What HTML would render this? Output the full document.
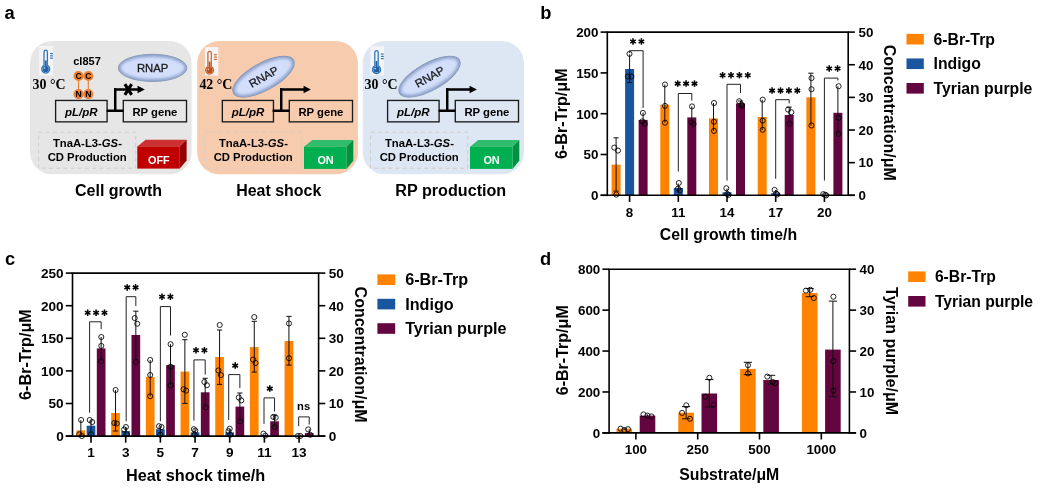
<!DOCTYPE html>
<html><head><meta charset="utf-8"><title>figure</title>
<style>
html,body{margin:0;padding:0;background:#fff;}
body{width:1041px;height:488px;overflow:hidden;}
svg{display:block;font-family:"Liberation Sans",sans-serif;will-change:transform;}
</style></head><body>
<svg width="1041" height="488" viewBox="0 0 1041 488">
<rect width="1041" height="488" fill="#fff"/>
<text x="4.5" y="19.2" font-size="18.3" font-weight="bold" text-anchor="start" fill="#000" >a</text>
<text x="540.3" y="19.2" font-size="18.3" font-weight="bold" text-anchor="start" fill="#000" >b</text>
<text x="5.1" y="264.65" font-size="18.3" font-weight="bold" text-anchor="start" fill="#000" >c</text>
<text x="540" y="265.2" font-size="18.3" font-weight="bold" text-anchor="start" fill="#000" >d</text>
<defs><clipPath id="rnapclip"><ellipse cx="0" cy="0" rx="34.3" ry="13.6"/></clipPath><filter id="rnapblur" x="-20%" y="-40%" width="140%" height="180%"><feGaussianBlur stdDeviation="1.5"/></filter></defs>
<rect x="30" y="41.1" width="161.6" height="133.2" rx="22" ry="22" fill="#e6e6e6"/>
<rect x="39.15" y="46" width="14" height="29.5" fill="#f4f4f6"/>
<path d="M44 65.4 V51.9 a1.7 1.7 0 0 1 3.4 0 V65.4 a4.0 4.0 0 1 1 -3.4 0 z" fill="#f2f5fa" stroke="#2e75b6" stroke-width="1.25"/>
<circle cx="45.7" cy="69" r="3.1" fill="#1f5fa8"/>
<rect x="44.8" y="60.5" width="1.8" height="7.8" fill="#1f5fa8"/>
<circle cx="44.5" cy="68.1" r="0.9" fill="#dfe8f4" opacity="0.8"/>
<rect x="50.05" y="53" width="2.9" height="1.15" fill="#2e75b6"/>
<rect x="50.05" y="55.3" width="2.9" height="1.15" fill="#2e75b6"/>
<rect x="50.05" y="57.6" width="2.9" height="1.15" fill="#2e75b6"/>
<text x="32.6" y="88.8" font-size="13.9" font-weight="bold" text-anchor="start" fill="#000" font-family='"Liberation Serif", serif' >30 °C</text>
<g transform="translate(152.6 67.9) rotate(0)">
<ellipse cx="0" cy="0" rx="34.3" ry="13.6" fill="#8b9fc9" stroke="#8696b8" stroke-width="0.9"/>
<g clip-path="url(#rnapclip)"><ellipse cx="0" cy="0" rx="31.9" ry="11.2" fill="#d2defa" filter="url(#rnapblur)"/></g>
<text x="0" y="4.1" font-size="11.3" font-weight="normal" text-anchor="middle" fill="#1a1a1a" stroke="#1a1a1a" stroke-width="0.3">RNAP</text>
</g>
<rect x="55.6" y="100.45" width="51.5" height="21.4" fill="none" stroke="#1c1c1c" stroke-width="1.35"/>
<rect x="123.3" y="100.45" width="63.2" height="21.4" fill="none" stroke="#1c1c1c" stroke-width="1.35"/>
<text x="81.3" y="115.6" font-size="11.5" font-weight="bold" text-anchor="middle" fill="#000" font-style="italic" >pL/pR</text>
<text x="154.9" y="115.6" font-size="11.3" font-weight="bold" text-anchor="middle" fill="#000" >RP gene</text>
<path d="M106.65 110.8 H123.25 M114.13 89.45 H138.75" fill="none" stroke="#000" stroke-width="2.6"/>
<path d="M115.25 110.8 V88.15" fill="none" stroke="#000" stroke-width="2.45"/>
<polygon points="137.55,85.65 144.85,89.45 137.55,93.25" fill="#000"/>
<rect x="38.6" y="132.2" width="97.2" height="36" fill="none" stroke="#cbcbcb" stroke-width="0.9" stroke-dasharray="4 3.2"/>
<text x="87.4" y="147.1" font-size="11.3" font-weight="bold" text-anchor="middle">TnaA-L3-<tspan font-style="italic">GS</tspan>-</text>
<text x="87.2" y="160.6" font-size="11.3" font-weight="bold" text-anchor="middle" fill="#000" >CD Production</text>
<polygon points="137.3,146.4 145.6,139.8 186.6,139.8 179.8,146.4" fill="#cc3030"/>
<polygon points="179.8,146.4 186.6,139.8 186.6,160.5 179.8,168.6" fill="#960000"/>
<rect x="137.3" y="146.4" width="42.5" height="22.2" fill="#c00000" />
<text x="158.85" y="164" font-size="10.9" font-weight="bold" text-anchor="middle" fill="#fff" >OFF</text>
<rect x="197.2" y="41.1" width="160.7" height="133.2" rx="22" ry="22" fill="#f7cbae"/>
<rect x="204.9" y="47.1" width="13.4" height="28.4" fill="#f4f4f6"/>
<path d="M207.9 66.6 V53.1 a1.7 1.7 0 0 1 3.4 0 V66.6 a4.0 4.0 0 1 1 -3.4 0 z" fill="#f2f5fa" stroke="#c8662b" stroke-width="1.25"/>
<circle cx="209.6" cy="70.2" r="3.1" fill="#bf4d17"/>
<rect x="208.7" y="61.7" width="1.8" height="7.8" fill="#bf4d17"/>
<circle cx="208.4" cy="69.3" r="0.9" fill="#dfe8f4" opacity="0.8"/>
<rect x="213.95" y="54.2" width="2.9" height="1.15" fill="#c8662b"/>
<rect x="213.95" y="56.5" width="2.9" height="1.15" fill="#c8662b"/>
<rect x="213.95" y="58.8" width="2.9" height="1.15" fill="#c8662b"/>
<text x="199.4" y="88.8" font-size="13.9" font-weight="bold" text-anchor="start" fill="#000" font-family='"Liberation Serif", serif' >42 °C</text>
<g transform="translate(263.5 76.7) rotate(-29)">
<ellipse cx="0" cy="0" rx="34.3" ry="13.6" fill="#8b9fc9" stroke="#8696b8" stroke-width="0.9"/>
<g clip-path="url(#rnapclip)"><ellipse cx="0" cy="0" rx="31.9" ry="11.2" fill="#d2defa" filter="url(#rnapblur)"/></g>
<text x="0" y="4.1" font-size="11.3" font-weight="normal" text-anchor="middle" fill="#1a1a1a" stroke="#1a1a1a" stroke-width="0.3">RNAP</text>
</g>
<rect x="222.35" y="100.45" width="51.1" height="21.4" fill="none" stroke="#1c1c1c" stroke-width="1.35"/>
<rect x="289.3" y="100.45" width="63.2" height="21.4" fill="none" stroke="#1c1c1c" stroke-width="1.35"/>
<text x="248.05" y="115.6" font-size="11.5" font-weight="bold" text-anchor="middle" fill="#000" font-style="italic" >pL/pR</text>
<text x="320.9" y="115.6" font-size="11.3" font-weight="bold" text-anchor="middle" fill="#000" >RP gene</text>
<path d="M272.65 110.8 H289.25 M280.13 89.45 H304.75" fill="none" stroke="#000" stroke-width="2.6"/>
<path d="M281.25 110.8 V88.15" fill="none" stroke="#000" stroke-width="2.45"/>
<polygon points="303.55,85.65 310.85,89.45 303.55,93.25" fill="#000"/>
<rect x="204.6" y="132.2" width="97.2" height="36" fill="none" stroke="#d9cdc6" stroke-width="0.9" stroke-dasharray="4 3.2"/>
<text x="253.4" y="147.1" font-size="11.3" font-weight="bold" text-anchor="middle">TnaA-L3-<tspan font-style="italic">GS</tspan>-</text>
<text x="253.2" y="160.6" font-size="11.3" font-weight="bold" text-anchor="middle" fill="#000" >CD Production</text>
<polygon points="304,146.7 312.3,140.1 353.3,140.1 346.5,146.7" fill="#2fbd6b"/>
<polygon points="346.5,146.7 353.3,140.1 353.3,160.8 346.5,168.9" fill="#00923f"/>
<rect x="304" y="146.7" width="42.5" height="22.2" fill="#00b050" />
<text x="325.55" y="164.3" font-size="10.9" font-weight="bold" text-anchor="middle" fill="#fff" >ON</text>
<rect x="362.7" y="41.1" width="161.3" height="133.2" rx="22" ry="22" fill="#dde7f4"/>
<rect x="370.4" y="46.3" width="13.4" height="29.2" fill="#f4f4f6"/>
<path d="M374.8 65.9 V52.4 a1.7 1.7 0 0 1 3.4 0 V65.9 a4.0 4.0 0 1 1 -3.4 0 z" fill="#f2f5fa" stroke="#2e75b6" stroke-width="1.25"/>
<circle cx="376.5" cy="69.5" r="3.1" fill="#1f5fa8"/>
<rect x="375.6" y="61" width="1.8" height="7.8" fill="#1f5fa8"/>
<circle cx="375.3" cy="68.6" r="0.9" fill="#dfe8f4" opacity="0.8"/>
<rect x="380.85" y="53.5" width="2.9" height="1.15" fill="#2e75b6"/>
<rect x="380.85" y="55.8" width="2.9" height="1.15" fill="#2e75b6"/>
<rect x="380.85" y="58.1" width="2.9" height="1.15" fill="#2e75b6"/>
<text x="364.6" y="88.8" font-size="13.9" font-weight="bold" text-anchor="start" fill="#000" font-family='"Liberation Serif", serif' >30 °C</text>
<g transform="translate(429.5 76.7) rotate(-29)">
<ellipse cx="0" cy="0" rx="34.3" ry="13.6" fill="#8b9fc9" stroke="#8696b8" stroke-width="0.9"/>
<g clip-path="url(#rnapclip)"><ellipse cx="0" cy="0" rx="31.9" ry="11.2" fill="#d2defa" filter="url(#rnapblur)"/></g>
<text x="0" y="4.1" font-size="11.3" font-weight="normal" text-anchor="middle" fill="#1a1a1a" stroke="#1a1a1a" stroke-width="0.3">RNAP</text>
</g>
<rect x="387.6" y="100.45" width="51.5" height="21.4" fill="none" stroke="#1c1c1c" stroke-width="1.35"/>
<rect x="455.3" y="100.45" width="63.2" height="21.4" fill="none" stroke="#1c1c1c" stroke-width="1.35"/>
<text x="413.3" y="115.6" font-size="11.5" font-weight="bold" text-anchor="middle" fill="#000" font-style="italic" >pL/pR</text>
<text x="486.9" y="115.6" font-size="11.3" font-weight="bold" text-anchor="middle" fill="#000" >RP gene</text>
<path d="M438.65 110.8 H455.25 M446.13 89.45 H470.75" fill="none" stroke="#000" stroke-width="2.6"/>
<path d="M447.25 110.8 V88.15" fill="none" stroke="#000" stroke-width="2.45"/>
<polygon points="469.55,85.65 476.85,89.45 469.55,93.25" fill="#000"/>
<rect x="370.6" y="132.2" width="97.2" height="36" fill="none" stroke="#cfc8c2" stroke-width="0.9" stroke-dasharray="4 3.2"/>
<text x="419.4" y="147.1" font-size="11.3" font-weight="bold" text-anchor="middle">TnaA-L3-<tspan font-style="italic">GS</tspan>-</text>
<text x="419.2" y="160.6" font-size="11.3" font-weight="bold" text-anchor="middle" fill="#000" >CD Production</text>
<polygon points="470,146.7 478.3,140.1 519.3,140.1 512.5,146.7" fill="#2fbd6b"/>
<polygon points="512.5,146.7 519.3,140.1 519.3,160.8 512.5,168.9" fill="#00923f"/>
<rect x="470" y="146.7" width="42.5" height="22.2" fill="#00b050" />
<text x="491.55" y="164.3" font-size="10.9" font-weight="bold" text-anchor="middle" fill="#fff" >ON</text>
<text x="87" y="65.2" font-size="11" font-weight="bold" text-anchor="middle" fill="#000" >cI857</text>
<line x1="78.5" y1="76" x2="78.5" y2="94" stroke="#ed7d31" stroke-width="1.1" />
<line x1="88.3" y1="76" x2="88.3" y2="94" stroke="#ed7d31" stroke-width="1.1" />
<circle cx="78.5" cy="76" r="5.05" fill="#f08030"/>
<text x="78.5" y="79.1" font-size="8.6" font-weight="bold" text-anchor="middle" fill="#000" >C</text>
<circle cx="88.3" cy="76" r="5.05" fill="#f08030"/>
<text x="88.3" y="79.1" font-size="8.6" font-weight="bold" text-anchor="middle" fill="#000" >C</text>
<circle cx="78.5" cy="94.1" r="5.05" fill="#f08030"/>
<text x="78.5" y="97.2" font-size="8.6" font-weight="bold" text-anchor="middle" fill="#000" >N</text>
<circle cx="88.3" cy="94.1" r="5.05" fill="#f08030"/>
<text x="88.3" y="97.2" font-size="8.6" font-weight="bold" text-anchor="middle" fill="#000" >N</text>
<line x1="124.85" y1="84.15" x2="131.65" y2="94.95" stroke="#000" stroke-width="3.1" />
<line x1="131.65" y1="84.15" x2="124.85" y2="94.95" stroke="#000" stroke-width="3.1" />
<text x="118.55" y="196" font-size="16" font-weight="bold" text-anchor="middle" fill="#000" >Cell growth</text>
<text x="278.75" y="196" font-size="15.95" font-weight="bold" text-anchor="middle" fill="#000" >Heat shock</text>
<text x="450.8" y="196" font-size="16.15" font-weight="bold" text-anchor="middle" fill="#000" >RP production</text>
<rect x="611.6" y="164.6" width="9" height="30.7" fill="#ff8200" />
<rect x="625.1" y="69" width="9" height="126.3" fill="#1a55a0" />
<rect x="638.6" y="119.9" width="9" height="75.4" fill="#63063f" />
<rect x="660.3" y="104.7" width="9" height="90.6" fill="#ff8200" />
<rect x="673.8" y="188" width="9" height="7.3" fill="#1a55a0" />
<rect x="687.3" y="117.4" width="9" height="77.9" fill="#63063f" />
<rect x="709" y="118.4" width="9" height="76.9" fill="#ff8200" />
<rect x="722.5" y="192.3" width="9" height="3" fill="#1a55a0" />
<rect x="736" y="103.4" width="9" height="91.9" fill="#63063f" />
<rect x="757.7" y="117" width="9" height="78.3" fill="#ff8200" />
<rect x="771.2" y="193.2" width="9" height="2.1" fill="#1a55a0" />
<rect x="784.7" y="115" width="9" height="80.3" fill="#63063f" />
<rect x="806.4" y="97.3" width="9" height="98" fill="#ff8200" />
<rect x="833.4" y="112.8" width="9" height="82.5" fill="#63063f" />
<line x1="606.5" y1="32.1" x2="849" y2="32.1" stroke="#000" stroke-width="1.6" />
<line x1="607.3" y1="32.1" x2="607.3" y2="196.1" stroke="#000" stroke-width="1.6" />
<line x1="848.2" y1="32.1" x2="848.2" y2="196.1" stroke="#000" stroke-width="1.6" />
<line x1="600.6" y1="195.3" x2="854.9" y2="195.3" stroke="#000" stroke-width="1.6" />
<line x1="600.6" y1="195.3" x2="607.3" y2="195.3" stroke="#000" stroke-width="1.6" />
<text x="598.5" y="200.1" font-size="13.4" font-weight="bold" text-anchor="end" fill="#000" >0</text>
<line x1="600.6" y1="154.5" x2="607.3" y2="154.5" stroke="#000" stroke-width="1.6" />
<text x="598.5" y="159.3" font-size="13.4" font-weight="bold" text-anchor="end" fill="#000" >50</text>
<line x1="600.6" y1="113.7" x2="607.3" y2="113.7" stroke="#000" stroke-width="1.6" />
<text x="598.5" y="118.5" font-size="13.4" font-weight="bold" text-anchor="end" fill="#000" >100</text>
<line x1="600.6" y1="72.9" x2="607.3" y2="72.9" stroke="#000" stroke-width="1.6" />
<text x="598.5" y="77.7" font-size="13.4" font-weight="bold" text-anchor="end" fill="#000" >150</text>
<line x1="600.6" y1="32.1" x2="607.3" y2="32.1" stroke="#000" stroke-width="1.6" />
<text x="598.5" y="36.9" font-size="13.4" font-weight="bold" text-anchor="end" fill="#000" >200</text>
<line x1="848.2" y1="195.3" x2="854.9" y2="195.3" stroke="#000" stroke-width="1.6" />
<text x="858.6" y="200.1" font-size="13.4" font-weight="bold" text-anchor="start" fill="#000" >0</text>
<line x1="848.2" y1="162.66" x2="854.9" y2="162.66" stroke="#000" stroke-width="1.6" />
<text x="858.6" y="167.46" font-size="13.4" font-weight="bold" text-anchor="start" fill="#000" >10</text>
<line x1="848.2" y1="130.02" x2="854.9" y2="130.02" stroke="#000" stroke-width="1.6" />
<text x="858.6" y="134.82" font-size="13.4" font-weight="bold" text-anchor="start" fill="#000" >20</text>
<line x1="848.2" y1="97.38" x2="854.9" y2="97.38" stroke="#000" stroke-width="1.6" />
<text x="858.6" y="102.18" font-size="13.4" font-weight="bold" text-anchor="start" fill="#000" >30</text>
<line x1="848.2" y1="64.74" x2="854.9" y2="64.74" stroke="#000" stroke-width="1.6" />
<text x="858.6" y="69.54" font-size="13.4" font-weight="bold" text-anchor="start" fill="#000" >40</text>
<line x1="848.2" y1="32.1" x2="854.9" y2="32.1" stroke="#000" stroke-width="1.6" />
<text x="858.6" y="36.9" font-size="13.4" font-weight="bold" text-anchor="start" fill="#000" >50</text>
<line x1="629.6" y1="195.3" x2="629.6" y2="201.9" stroke="#000" stroke-width="1.6" />
<text x="629.6" y="216.9" font-size="13.4" font-weight="bold" text-anchor="middle" fill="#000" >8</text>
<line x1="678.3" y1="195.3" x2="678.3" y2="201.9" stroke="#000" stroke-width="1.6" />
<text x="678.3" y="216.9" font-size="13.4" font-weight="bold" text-anchor="middle" fill="#000" >11</text>
<line x1="727" y1="195.3" x2="727" y2="201.9" stroke="#000" stroke-width="1.6" />
<text x="727" y="216.9" font-size="13.4" font-weight="bold" text-anchor="middle" fill="#000" >14</text>
<line x1="775.7" y1="195.3" x2="775.7" y2="201.9" stroke="#000" stroke-width="1.6" />
<text x="775.7" y="216.9" font-size="13.4" font-weight="bold" text-anchor="middle" fill="#000" >17</text>
<line x1="824.4" y1="195.3" x2="824.4" y2="201.9" stroke="#000" stroke-width="1.6" />
<text x="824.4" y="216.9" font-size="13.4" font-weight="bold" text-anchor="middle" fill="#000" >20</text>
<text x="728.45" y="240.4" font-size="15.85" font-weight="bold" text-anchor="middle" fill="#000" >Cell growth time/h</text>
<text transform="translate(567.4 113.7) rotate(-90)" font-size="16.15" font-weight="bold" text-anchor="middle">6-Br-Trp/μM</text>
<text transform="translate(883.8 112.8) rotate(90)" font-size="16.05" font-weight="bold" text-anchor="middle">Concentration/μM</text>
<rect x="906.5" y="33.9" width="17.3" height="10.6" fill="#ff8200" />
<text x="933.5" y="44.8" font-size="15.8" font-weight="bold" text-anchor="start" fill="#000" >6-Br-Trp</text>
<rect x="906.5" y="58.45" width="17.3" height="10.6" fill="#1a55a0" />
<text x="933.5" y="69.35" font-size="15.8" font-weight="bold" text-anchor="start" fill="#000" >Indigo</text>
<rect x="906.5" y="83" width="17.3" height="10.6" fill="#63063f" />
<text x="933.5" y="93.9" font-size="15.8" font-weight="bold" text-anchor="start" fill="#000" >Tyrian purple</text>
<line x1="616.1" y1="137.8" x2="616.1" y2="191.1" stroke="#111" stroke-width="1" />
<line x1="613.5" y1="137.8" x2="618.7" y2="137.8" stroke="#111" stroke-width="1" />
<line x1="613.5" y1="191.1" x2="618.7" y2="191.1" stroke="#111" stroke-width="1" />
<line x1="629.6" y1="54.3" x2="629.6" y2="82.5" stroke="#111" stroke-width="1" />
<line x1="627" y1="82.5" x2="632.2" y2="82.5" stroke="#111" stroke-width="1" />
<line x1="643.1" y1="112.5" x2="643.1" y2="124.3" stroke="#111" stroke-width="1" />
<line x1="664.8" y1="84.5" x2="664.8" y2="122.6" stroke="#111" stroke-width="1" />
<line x1="678.3" y1="183.5" x2="678.3" y2="192.5" stroke="#111" stroke-width="1" />
<line x1="691.8" y1="106.4" x2="691.8" y2="124.2" stroke="#111" stroke-width="1" />
<line x1="713.5" y1="103" x2="713.5" y2="131" stroke="#111" stroke-width="1" />
<line x1="727" y1="188.5" x2="727" y2="195.3" stroke="#111" stroke-width="1" />
<line x1="740.5" y1="101" x2="740.5" y2="106" stroke="#111" stroke-width="1" />
<line x1="737.9" y1="101" x2="743.1" y2="101" stroke="#111" stroke-width="1" />
<line x1="737.9" y1="106" x2="743.1" y2="106" stroke="#111" stroke-width="1" />
<line x1="762.2" y1="99.7" x2="762.2" y2="130.2" stroke="#111" stroke-width="1" />
<line x1="775.7" y1="190" x2="775.7" y2="195.3" stroke="#111" stroke-width="1" />
<line x1="789.2" y1="107.1" x2="789.2" y2="124" stroke="#111" stroke-width="1" />
<line x1="786.6" y1="107.1" x2="791.8" y2="107.1" stroke="#111" stroke-width="1" />
<line x1="810.9" y1="73.2" x2="810.9" y2="125.5" stroke="#111" stroke-width="1" />
<line x1="808.3" y1="73.2" x2="813.5" y2="73.2" stroke="#111" stroke-width="1" />
<line x1="837.9" y1="86.2" x2="837.9" y2="134" stroke="#111" stroke-width="1" />
<circle cx="614.3" cy="147.6" r="2.55" fill="none" stroke="#000" stroke-width="0.85"/>
<circle cx="618" cy="150.6" r="2.55" fill="none" stroke="#000" stroke-width="0.85"/>
<circle cx="616.3" cy="194.6" r="2.55" fill="none" stroke="#000" stroke-width="0.85"/>
<circle cx="629.5" cy="53.9" r="2.55" fill="none" stroke="#000" stroke-width="0.85"/>
<circle cx="627.9" cy="76.5" r="2.55" fill="none" stroke="#000" stroke-width="0.85"/>
<circle cx="631.4" cy="76.5" r="2.55" fill="none" stroke="#000" stroke-width="0.85"/>
<circle cx="642.9" cy="112.9" r="2.55" fill="none" stroke="#000" stroke-width="0.85"/>
<circle cx="642.4" cy="121.4" r="2.55" fill="none" stroke="#000" stroke-width="0.85"/>
<circle cx="644.8" cy="123.9" r="2.55" fill="none" stroke="#000" stroke-width="0.85"/>
<circle cx="665" cy="84.5" r="2.55" fill="none" stroke="#000" stroke-width="0.85"/>
<circle cx="665" cy="105.9" r="2.55" fill="none" stroke="#000" stroke-width="0.85"/>
<circle cx="665" cy="122.7" r="2.55" fill="none" stroke="#000" stroke-width="0.85"/>
<circle cx="678.8" cy="183" r="2.55" fill="none" stroke="#000" stroke-width="0.85"/>
<circle cx="678" cy="188.7" r="2.55" fill="none" stroke="#000" stroke-width="0.85"/>
<circle cx="679.7" cy="190.4" r="2.55" fill="none" stroke="#000" stroke-width="0.85"/>
<circle cx="692" cy="106.4" r="2.55" fill="none" stroke="#000" stroke-width="0.85"/>
<circle cx="691.5" cy="122.3" r="2.55" fill="none" stroke="#000" stroke-width="0.85"/>
<circle cx="693.5" cy="124" r="2.55" fill="none" stroke="#000" stroke-width="0.85"/>
<circle cx="714" cy="103" r="2.55" fill="none" stroke="#000" stroke-width="0.85"/>
<circle cx="714" cy="121.8" r="2.55" fill="none" stroke="#000" stroke-width="0.85"/>
<circle cx="714" cy="130.9" r="2.55" fill="none" stroke="#000" stroke-width="0.85"/>
<circle cx="726.3" cy="188.2" r="2.55" fill="none" stroke="#000" stroke-width="0.85"/>
<circle cx="727.3" cy="194" r="2.55" fill="none" stroke="#000" stroke-width="0.85"/>
<circle cx="728.4" cy="195" r="2.55" fill="none" stroke="#000" stroke-width="0.85"/>
<circle cx="739.2" cy="101.2" r="2.55" fill="none" stroke="#000" stroke-width="0.85"/>
<circle cx="741.6" cy="104.7" r="2.55" fill="none" stroke="#000" stroke-width="0.85"/>
<circle cx="742.1" cy="105.9" r="2.55" fill="none" stroke="#000" stroke-width="0.85"/>
<circle cx="762.7" cy="99.7" r="2.55" fill="none" stroke="#000" stroke-width="0.85"/>
<circle cx="762.7" cy="120.6" r="2.55" fill="none" stroke="#000" stroke-width="0.85"/>
<circle cx="762.7" cy="129.8" r="2.55" fill="none" stroke="#000" stroke-width="0.85"/>
<circle cx="774.6" cy="189.9" r="2.55" fill="none" stroke="#000" stroke-width="0.85"/>
<circle cx="776.1" cy="193.6" r="2.55" fill="none" stroke="#000" stroke-width="0.85"/>
<circle cx="777.3" cy="194.5" r="2.55" fill="none" stroke="#000" stroke-width="0.85"/>
<circle cx="788.1" cy="109.6" r="2.55" fill="none" stroke="#000" stroke-width="0.85"/>
<circle cx="791.3" cy="112.2" r="2.55" fill="none" stroke="#000" stroke-width="0.85"/>
<circle cx="789.6" cy="123.6" r="2.55" fill="none" stroke="#000" stroke-width="0.85"/>
<circle cx="811.5" cy="78.1" r="2.55" fill="none" stroke="#000" stroke-width="0.85"/>
<circle cx="811.5" cy="89.2" r="2.55" fill="none" stroke="#000" stroke-width="0.85"/>
<circle cx="811.5" cy="125.5" r="2.55" fill="none" stroke="#000" stroke-width="0.85"/>
<circle cx="823.3" cy="194.1" r="2.55" fill="none" stroke="#000" stroke-width="0.85"/>
<circle cx="825.2" cy="194.8" r="2.55" fill="none" stroke="#000" stroke-width="0.85"/>
<circle cx="826.2" cy="195.4" r="2.55" fill="none" stroke="#000" stroke-width="0.85"/>
<circle cx="838.6" cy="86.2" r="2.55" fill="none" stroke="#000" stroke-width="0.85"/>
<circle cx="838.6" cy="117.9" r="2.55" fill="none" stroke="#000" stroke-width="0.85"/>
<circle cx="838.6" cy="133.9" r="2.55" fill="none" stroke="#000" stroke-width="0.85"/>
<path d="M629.6 53 V50.7 H643.1 V108" fill="none" stroke="#222" stroke-width="1"/>
<path d="M678.3 171.5 V93.5 H691.8 V100.5" fill="none" stroke="#222" stroke-width="1"/>
<path d="M727 180.6 V84.3 H740.5 V93" fill="none" stroke="#222" stroke-width="1"/>
<path d="M775.7 178.8 V99.7 H789.2 V103.4" fill="none" stroke="#222" stroke-width="1"/>
<path d="M824.4 180.6 V78.1 H837.9 V80.5" fill="none" stroke="#222" stroke-width="1"/>
<line x1="633" y1="38.25" x2="633" y2="44.75" stroke="#000" stroke-width="1.55" />
<line x1="630.19" y1="39.88" x2="635.81" y2="43.12" stroke="#000" stroke-width="1.55" />
<line x1="635.81" y1="39.88" x2="630.19" y2="43.12" stroke="#000" stroke-width="1.55" />
<line x1="641.4" y1="38.25" x2="641.4" y2="44.75" stroke="#000" stroke-width="1.55" />
<line x1="638.59" y1="39.88" x2="644.21" y2="43.12" stroke="#000" stroke-width="1.55" />
<line x1="644.21" y1="39.88" x2="638.59" y2="43.12" stroke="#000" stroke-width="1.55" />
<line x1="677.7" y1="80.35" x2="677.7" y2="86.85" stroke="#000" stroke-width="1.55" />
<line x1="674.89" y1="81.97" x2="680.51" y2="85.22" stroke="#000" stroke-width="1.55" />
<line x1="680.51" y1="81.97" x2="674.89" y2="85.22" stroke="#000" stroke-width="1.55" />
<line x1="686.1" y1="80.35" x2="686.1" y2="86.85" stroke="#000" stroke-width="1.55" />
<line x1="683.29" y1="81.97" x2="688.91" y2="85.22" stroke="#000" stroke-width="1.55" />
<line x1="688.91" y1="81.97" x2="683.29" y2="85.22" stroke="#000" stroke-width="1.55" />
<line x1="694.5" y1="80.35" x2="694.5" y2="86.85" stroke="#000" stroke-width="1.55" />
<line x1="691.69" y1="81.97" x2="697.31" y2="85.22" stroke="#000" stroke-width="1.55" />
<line x1="697.31" y1="81.97" x2="691.69" y2="85.22" stroke="#000" stroke-width="1.55" />
<line x1="722.6" y1="71.95" x2="722.6" y2="78.45" stroke="#000" stroke-width="1.55" />
<line x1="719.79" y1="73.58" x2="725.41" y2="76.83" stroke="#000" stroke-width="1.55" />
<line x1="725.41" y1="73.58" x2="719.79" y2="76.83" stroke="#000" stroke-width="1.55" />
<line x1="731" y1="71.95" x2="731" y2="78.45" stroke="#000" stroke-width="1.55" />
<line x1="728.19" y1="73.58" x2="733.81" y2="76.83" stroke="#000" stroke-width="1.55" />
<line x1="733.81" y1="73.58" x2="728.19" y2="76.83" stroke="#000" stroke-width="1.55" />
<line x1="739.4" y1="71.95" x2="739.4" y2="78.45" stroke="#000" stroke-width="1.55" />
<line x1="736.59" y1="73.58" x2="742.21" y2="76.83" stroke="#000" stroke-width="1.55" />
<line x1="742.21" y1="73.58" x2="736.59" y2="76.83" stroke="#000" stroke-width="1.55" />
<line x1="747.8" y1="71.95" x2="747.8" y2="78.45" stroke="#000" stroke-width="1.55" />
<line x1="744.99" y1="73.58" x2="750.61" y2="76.83" stroke="#000" stroke-width="1.55" />
<line x1="750.61" y1="73.58" x2="744.99" y2="76.83" stroke="#000" stroke-width="1.55" />
<line x1="772.1" y1="87.35" x2="772.1" y2="93.85" stroke="#000" stroke-width="1.55" />
<line x1="769.29" y1="88.97" x2="774.91" y2="92.22" stroke="#000" stroke-width="1.55" />
<line x1="774.91" y1="88.97" x2="769.29" y2="92.22" stroke="#000" stroke-width="1.55" />
<line x1="780.5" y1="87.35" x2="780.5" y2="93.85" stroke="#000" stroke-width="1.55" />
<line x1="777.69" y1="88.97" x2="783.31" y2="92.22" stroke="#000" stroke-width="1.55" />
<line x1="783.31" y1="88.97" x2="777.69" y2="92.22" stroke="#000" stroke-width="1.55" />
<line x1="788.9" y1="87.35" x2="788.9" y2="93.85" stroke="#000" stroke-width="1.55" />
<line x1="786.09" y1="88.97" x2="791.71" y2="92.22" stroke="#000" stroke-width="1.55" />
<line x1="791.71" y1="88.97" x2="786.09" y2="92.22" stroke="#000" stroke-width="1.55" />
<line x1="797.3" y1="87.35" x2="797.3" y2="93.85" stroke="#000" stroke-width="1.55" />
<line x1="794.49" y1="88.97" x2="800.11" y2="92.22" stroke="#000" stroke-width="1.55" />
<line x1="800.11" y1="88.97" x2="794.49" y2="92.22" stroke="#000" stroke-width="1.55" />
<line x1="829.2" y1="65.25" x2="829.2" y2="71.75" stroke="#000" stroke-width="1.55" />
<line x1="826.39" y1="66.88" x2="832.01" y2="70.12" stroke="#000" stroke-width="1.55" />
<line x1="832.01" y1="66.88" x2="826.39" y2="70.12" stroke="#000" stroke-width="1.55" />
<line x1="837.6" y1="65.25" x2="837.6" y2="71.75" stroke="#000" stroke-width="1.55" />
<line x1="834.79" y1="66.88" x2="840.41" y2="70.12" stroke="#000" stroke-width="1.55" />
<line x1="840.41" y1="66.88" x2="834.79" y2="70.12" stroke="#000" stroke-width="1.55" />
<rect x="76.5" y="430.4" width="8.7" height="5.7" fill="#ff8200" />
<rect x="86.65" y="425.7" width="8.7" height="10.4" fill="#1a55a0" />
<rect x="96.8" y="348.4" width="8.7" height="87.7" fill="#63063f" />
<rect x="111.18" y="413" width="8.7" height="23.1" fill="#ff8200" />
<rect x="121.33" y="431.1" width="8.7" height="5" fill="#1a55a0" />
<rect x="131.48" y="335" width="8.7" height="101.1" fill="#63063f" />
<rect x="145.86" y="377" width="8.7" height="59.1" fill="#ff8200" />
<rect x="156.01" y="429.2" width="8.7" height="6.9" fill="#1a55a0" />
<rect x="166.16" y="365.1" width="8.7" height="71" fill="#63063f" />
<rect x="180.54" y="371.6" width="8.7" height="64.5" fill="#ff8200" />
<rect x="190.69" y="432.4" width="8.7" height="3.7" fill="#1a55a0" />
<rect x="200.84" y="392.3" width="8.7" height="43.8" fill="#63063f" />
<rect x="215.22" y="357" width="8.7" height="79.1" fill="#ff8200" />
<rect x="225.37" y="432.4" width="8.7" height="3.7" fill="#1a55a0" />
<rect x="235.52" y="406.6" width="8.7" height="29.5" fill="#63063f" />
<rect x="249.9" y="347.1" width="8.7" height="89" fill="#ff8200" />
<rect x="260.05" y="434.8" width="8.7" height="1.3" fill="#1a55a0" />
<rect x="270.2" y="421.3" width="8.7" height="14.8" fill="#63063f" />
<rect x="284.58" y="341" width="8.7" height="95.1" fill="#ff8200" />
<rect x="304.88" y="433.1" width="8.7" height="3" fill="#63063f" />
<line x1="71.7" y1="273.1" x2="319.4" y2="273.1" stroke="#000" stroke-width="1.6" />
<line x1="72.5" y1="273.1" x2="72.5" y2="436.9" stroke="#000" stroke-width="1.6" />
<line x1="318.6" y1="273.1" x2="318.6" y2="436.9" stroke="#000" stroke-width="1.6" />
<line x1="65.8" y1="436.1" x2="325.3" y2="436.1" stroke="#000" stroke-width="1.6" />
<line x1="65.8" y1="436.1" x2="72.5" y2="436.1" stroke="#000" stroke-width="1.6" />
<text x="63.7" y="440.9" font-size="13.6" font-weight="bold" text-anchor="end" fill="#000" >0</text>
<line x1="65.8" y1="403.5" x2="72.5" y2="403.5" stroke="#000" stroke-width="1.6" />
<text x="63.7" y="408.3" font-size="13.6" font-weight="bold" text-anchor="end" fill="#000" >50</text>
<line x1="65.8" y1="370.9" x2="72.5" y2="370.9" stroke="#000" stroke-width="1.6" />
<text x="63.7" y="375.7" font-size="13.6" font-weight="bold" text-anchor="end" fill="#000" >100</text>
<line x1="65.8" y1="338.3" x2="72.5" y2="338.3" stroke="#000" stroke-width="1.6" />
<text x="63.7" y="343.1" font-size="13.6" font-weight="bold" text-anchor="end" fill="#000" >150</text>
<line x1="65.8" y1="305.7" x2="72.5" y2="305.7" stroke="#000" stroke-width="1.6" />
<text x="63.7" y="310.5" font-size="13.6" font-weight="bold" text-anchor="end" fill="#000" >200</text>
<line x1="65.8" y1="273.1" x2="72.5" y2="273.1" stroke="#000" stroke-width="1.6" />
<text x="63.7" y="277.9" font-size="13.6" font-weight="bold" text-anchor="end" fill="#000" >250</text>
<line x1="318.6" y1="436.1" x2="325.3" y2="436.1" stroke="#000" stroke-width="1.6" />
<text x="328.7" y="440.9" font-size="13.6" font-weight="bold" text-anchor="start" fill="#000" >0</text>
<line x1="318.6" y1="403.5" x2="325.3" y2="403.5" stroke="#000" stroke-width="1.6" />
<text x="328.7" y="408.3" font-size="13.6" font-weight="bold" text-anchor="start" fill="#000" >10</text>
<line x1="318.6" y1="370.9" x2="325.3" y2="370.9" stroke="#000" stroke-width="1.6" />
<text x="328.7" y="375.7" font-size="13.6" font-weight="bold" text-anchor="start" fill="#000" >20</text>
<line x1="318.6" y1="338.3" x2="325.3" y2="338.3" stroke="#000" stroke-width="1.6" />
<text x="328.7" y="343.1" font-size="13.6" font-weight="bold" text-anchor="start" fill="#000" >30</text>
<line x1="318.6" y1="305.7" x2="325.3" y2="305.7" stroke="#000" stroke-width="1.6" />
<text x="328.7" y="310.5" font-size="13.6" font-weight="bold" text-anchor="start" fill="#000" >40</text>
<line x1="318.6" y1="273.1" x2="325.3" y2="273.1" stroke="#000" stroke-width="1.6" />
<text x="328.7" y="277.9" font-size="13.6" font-weight="bold" text-anchor="start" fill="#000" >50</text>
<line x1="91" y1="436.1" x2="91" y2="442.7" stroke="#000" stroke-width="1.6" />
<text x="91" y="457" font-size="13.6" font-weight="bold" text-anchor="middle" fill="#000" >1</text>
<line x1="125.68" y1="436.1" x2="125.68" y2="442.7" stroke="#000" stroke-width="1.6" />
<text x="125.68" y="457" font-size="13.6" font-weight="bold" text-anchor="middle" fill="#000" >3</text>
<line x1="160.36" y1="436.1" x2="160.36" y2="442.7" stroke="#000" stroke-width="1.6" />
<text x="160.36" y="457" font-size="13.6" font-weight="bold" text-anchor="middle" fill="#000" >5</text>
<line x1="195.04" y1="436.1" x2="195.04" y2="442.7" stroke="#000" stroke-width="1.6" />
<text x="195.04" y="457" font-size="13.6" font-weight="bold" text-anchor="middle" fill="#000" >7</text>
<line x1="229.72" y1="436.1" x2="229.72" y2="442.7" stroke="#000" stroke-width="1.6" />
<text x="229.72" y="457" font-size="13.6" font-weight="bold" text-anchor="middle" fill="#000" >9</text>
<line x1="264.4" y1="436.1" x2="264.4" y2="442.7" stroke="#000" stroke-width="1.6" />
<text x="264.4" y="457" font-size="13.6" font-weight="bold" text-anchor="middle" fill="#000" >11</text>
<line x1="299.08" y1="436.1" x2="299.08" y2="442.7" stroke="#000" stroke-width="1.6" />
<text x="299.08" y="457" font-size="13.6" font-weight="bold" text-anchor="middle" fill="#000" >13</text>
<text x="195.55" y="481.4" font-size="16.3" font-weight="bold" text-anchor="middle" fill="#000" >Heat shock time/h</text>
<text transform="translate(30.7 354.6) rotate(-90)" font-size="16.15" font-weight="bold" text-anchor="middle">6-Br-Trp/μM</text>
<text transform="translate(354.6 354.6) rotate(90)" font-size="16" font-weight="bold" text-anchor="middle">Concentration/μM</text>
<rect x="377.4" y="274.4" width="17.8" height="10.6" fill="#ff8200" />
<text x="405.2" y="285.3" font-size="16.2" font-weight="bold" text-anchor="start" fill="#000" >6-Br-Trp</text>
<rect x="377.4" y="298.8" width="17.8" height="10.6" fill="#1a55a0" />
<text x="405.2" y="309.7" font-size="16.2" font-weight="bold" text-anchor="start" fill="#000" >Indigo</text>
<rect x="377.4" y="323.2" width="17.8" height="10.6" fill="#63063f" />
<text x="405.2" y="334.1" font-size="16.2" font-weight="bold" text-anchor="start" fill="#000" >Tyrian purple</text>
<line x1="80.85" y1="420" x2="80.85" y2="436" stroke="#111" stroke-width="1" />
<line x1="91" y1="420" x2="91" y2="436" stroke="#111" stroke-width="1" />
<line x1="101.15" y1="337" x2="101.15" y2="361" stroke="#111" stroke-width="1" />
<line x1="115.53" y1="390" x2="115.53" y2="431" stroke="#111" stroke-width="1" />
<line x1="112.93" y1="431" x2="118.13" y2="431" stroke="#111" stroke-width="1" />
<line x1="125.68" y1="427" x2="125.68" y2="435" stroke="#111" stroke-width="1" />
<line x1="135.83" y1="311.2" x2="135.83" y2="362" stroke="#111" stroke-width="1" />
<line x1="133.23" y1="311.2" x2="138.43" y2="311.2" stroke="#111" stroke-width="1" />
<line x1="150.21" y1="360" x2="150.21" y2="396.2" stroke="#111" stroke-width="1" />
<line x1="160.36" y1="426" x2="160.36" y2="435" stroke="#111" stroke-width="1" />
<line x1="170.51" y1="344.2" x2="170.51" y2="385.2" stroke="#111" stroke-width="1" />
<line x1="184.89" y1="339.7" x2="184.89" y2="403.4" stroke="#111" stroke-width="1" />
<line x1="182.29" y1="339.7" x2="187.49" y2="339.7" stroke="#111" stroke-width="1" />
<line x1="182.29" y1="403.4" x2="187.49" y2="403.4" stroke="#111" stroke-width="1" />
<line x1="195.04" y1="429" x2="195.04" y2="435" stroke="#111" stroke-width="1" />
<line x1="205.19" y1="378.3" x2="205.19" y2="407.3" stroke="#111" stroke-width="1" />
<line x1="202.59" y1="378.3" x2="207.79" y2="378.3" stroke="#111" stroke-width="1" />
<line x1="219.57" y1="330" x2="219.57" y2="384.4" stroke="#111" stroke-width="1" />
<line x1="216.97" y1="330" x2="222.17" y2="330" stroke="#111" stroke-width="1" />
<line x1="216.97" y1="384.4" x2="222.17" y2="384.4" stroke="#111" stroke-width="1" />
<line x1="229.72" y1="428.7" x2="229.72" y2="435" stroke="#111" stroke-width="1" />
<line x1="239.87" y1="393" x2="239.87" y2="421.3" stroke="#111" stroke-width="1" />
<line x1="237.27" y1="393" x2="242.47" y2="393" stroke="#111" stroke-width="1" />
<line x1="254.25" y1="321.3" x2="254.25" y2="372.1" stroke="#111" stroke-width="1" />
<line x1="251.65" y1="321.3" x2="256.85" y2="321.3" stroke="#111" stroke-width="1" />
<line x1="251.65" y1="372.1" x2="256.85" y2="372.1" stroke="#111" stroke-width="1" />
<line x1="274.55" y1="415" x2="274.55" y2="427" stroke="#111" stroke-width="1" />
<line x1="271.95" y1="415" x2="277.15" y2="415" stroke="#111" stroke-width="1" />
<line x1="288.93" y1="316.4" x2="288.93" y2="365.1" stroke="#111" stroke-width="1" />
<line x1="286.33" y1="316.4" x2="291.53" y2="316.4" stroke="#111" stroke-width="1" />
<line x1="286.33" y1="365.1" x2="291.53" y2="365.1" stroke="#111" stroke-width="1" />
<line x1="309.23" y1="429" x2="309.23" y2="436" stroke="#111" stroke-width="1" />
<circle cx="81.1" cy="420" r="2.55" fill="none" stroke="#000" stroke-width="0.85"/>
<circle cx="79.2" cy="434.3" r="2.55" fill="none" stroke="#000" stroke-width="0.85"/>
<circle cx="81.9" cy="436" r="2.55" fill="none" stroke="#000" stroke-width="0.85"/>
<circle cx="89.7" cy="420" r="2.55" fill="none" stroke="#000" stroke-width="0.85"/>
<circle cx="92.2" cy="422" r="2.55" fill="none" stroke="#000" stroke-width="0.85"/>
<circle cx="91" cy="434.3" r="2.55" fill="none" stroke="#000" stroke-width="0.85"/>
<circle cx="101.3" cy="337" r="2.55" fill="none" stroke="#000" stroke-width="0.85"/>
<circle cx="101.3" cy="345.9" r="2.55" fill="none" stroke="#000" stroke-width="0.85"/>
<circle cx="101.3" cy="361.2" r="2.55" fill="none" stroke="#000" stroke-width="0.85"/>
<circle cx="115.6" cy="390" r="2.55" fill="none" stroke="#000" stroke-width="0.85"/>
<circle cx="114.3" cy="423" r="2.55" fill="none" stroke="#000" stroke-width="0.85"/>
<circle cx="116.8" cy="423.5" r="2.55" fill="none" stroke="#000" stroke-width="0.85"/>
<circle cx="125.9" cy="427" r="2.55" fill="none" stroke="#000" stroke-width="0.85"/>
<circle cx="124.2" cy="429.4" r="2.55" fill="none" stroke="#000" stroke-width="0.85"/>
<circle cx="126.6" cy="434.3" r="2.55" fill="none" stroke="#000" stroke-width="0.85"/>
<circle cx="134.7" cy="318.1" r="2.55" fill="none" stroke="#000" stroke-width="0.85"/>
<circle cx="137.2" cy="323.8" r="2.55" fill="none" stroke="#000" stroke-width="0.85"/>
<circle cx="135.7" cy="361.9" r="2.55" fill="none" stroke="#000" stroke-width="0.85"/>
<circle cx="150.2" cy="360" r="2.55" fill="none" stroke="#000" stroke-width="0.85"/>
<circle cx="150.2" cy="375" r="2.55" fill="none" stroke="#000" stroke-width="0.85"/>
<circle cx="150.2" cy="396.2" r="2.55" fill="none" stroke="#000" stroke-width="0.85"/>
<circle cx="159" cy="426.2" r="2.55" fill="none" stroke="#000" stroke-width="0.85"/>
<circle cx="161.5" cy="427" r="2.55" fill="none" stroke="#000" stroke-width="0.85"/>
<circle cx="160.3" cy="434.8" r="2.55" fill="none" stroke="#000" stroke-width="0.85"/>
<circle cx="170.6" cy="344.2" r="2.55" fill="none" stroke="#000" stroke-width="0.85"/>
<circle cx="170.6" cy="366.7" r="2.55" fill="none" stroke="#000" stroke-width="0.85"/>
<circle cx="170.6" cy="385.2" r="2.55" fill="none" stroke="#000" stroke-width="0.85"/>
<circle cx="184.8" cy="334.8" r="2.55" fill="none" stroke="#000" stroke-width="0.85"/>
<circle cx="183.5" cy="389.3" r="2.55" fill="none" stroke="#000" stroke-width="0.85"/>
<circle cx="186.2" cy="390.6" r="2.55" fill="none" stroke="#000" stroke-width="0.85"/>
<circle cx="193.9" cy="429.2" r="2.55" fill="none" stroke="#000" stroke-width="0.85"/>
<circle cx="195.3" cy="430.6" r="2.55" fill="none" stroke="#000" stroke-width="0.85"/>
<circle cx="194.6" cy="434.8" r="2.55" fill="none" stroke="#000" stroke-width="0.85"/>
<circle cx="204.4" cy="382" r="2.55" fill="none" stroke="#000" stroke-width="0.85"/>
<circle cx="206.9" cy="385.2" r="2.55" fill="none" stroke="#000" stroke-width="0.85"/>
<circle cx="205.7" cy="407.3" r="2.55" fill="none" stroke="#000" stroke-width="0.85"/>
<circle cx="219.7" cy="325" r="2.55" fill="none" stroke="#000" stroke-width="0.85"/>
<circle cx="218.4" cy="370.4" r="2.55" fill="none" stroke="#000" stroke-width="0.85"/>
<circle cx="220.9" cy="375.1" r="2.55" fill="none" stroke="#000" stroke-width="0.85"/>
<circle cx="229.7" cy="428.7" r="2.55" fill="none" stroke="#000" stroke-width="0.85"/>
<circle cx="228.5" cy="431.1" r="2.55" fill="none" stroke="#000" stroke-width="0.85"/>
<circle cx="230.2" cy="434.8" r="2.55" fill="none" stroke="#000" stroke-width="0.85"/>
<circle cx="238.8" cy="397.5" r="2.55" fill="none" stroke="#000" stroke-width="0.85"/>
<circle cx="241.3" cy="400.4" r="2.55" fill="none" stroke="#000" stroke-width="0.85"/>
<circle cx="240.1" cy="421.3" r="2.55" fill="none" stroke="#000" stroke-width="0.85"/>
<circle cx="254.3" cy="317.1" r="2.55" fill="none" stroke="#000" stroke-width="0.85"/>
<circle cx="253.1" cy="359.6" r="2.55" fill="none" stroke="#000" stroke-width="0.85"/>
<circle cx="255.6" cy="363" r="2.55" fill="none" stroke="#000" stroke-width="0.85"/>
<circle cx="263.4" cy="433.6" r="2.55" fill="none" stroke="#000" stroke-width="0.85"/>
<circle cx="265.4" cy="435.6" r="2.55" fill="none" stroke="#000" stroke-width="0.85"/>
<circle cx="273.3" cy="416.9" r="2.55" fill="none" stroke="#000" stroke-width="0.85"/>
<circle cx="275.7" cy="417.6" r="2.55" fill="none" stroke="#000" stroke-width="0.85"/>
<circle cx="274.5" cy="427" r="2.55" fill="none" stroke="#000" stroke-width="0.85"/>
<circle cx="289" cy="323.5" r="2.55" fill="none" stroke="#000" stroke-width="0.85"/>
<circle cx="289" cy="358.2" r="2.55" fill="none" stroke="#000" stroke-width="0.85"/>
<circle cx="297.9" cy="436" r="2.55" fill="none" stroke="#000" stroke-width="0.85"/>
<circle cx="300.3" cy="436" r="2.55" fill="none" stroke="#000" stroke-width="0.85"/>
<circle cx="308.2" cy="429.4" r="2.55" fill="none" stroke="#000" stroke-width="0.85"/>
<circle cx="310.2" cy="434.8" r="2.55" fill="none" stroke="#000" stroke-width="0.85"/>
<path d="M89.6 412.7 V321.8 H101.15 V329.2" fill="none" stroke="#222" stroke-width="1"/>
<path d="M126.18 421.3 V296.7 H135.83 V306" fill="none" stroke="#222" stroke-width="1"/>
<path d="M160.36 421.3 V306.6 H170.51 V335.5" fill="none" stroke="#222" stroke-width="1"/>
<path d="M193.94 420.6 V359.9 H205.19 V374.6" fill="none" stroke="#222" stroke-width="1"/>
<path d="M228.72 420 V374.6 H239.87 V388.1" fill="none" stroke="#222" stroke-width="1"/>
<path d="M264 423.8 V397.9 H274.55 V411.5" fill="none" stroke="#222" stroke-width="1"/>
<path d="M298.68 426.2 V416.9 H309.23 V424.5" fill="none" stroke="#222" stroke-width="1"/>
<line x1="87.7" y1="309.45" x2="87.7" y2="315.95" stroke="#000" stroke-width="1.55" />
<line x1="84.89" y1="311.07" x2="90.51" y2="314.32" stroke="#000" stroke-width="1.55" />
<line x1="90.51" y1="311.07" x2="84.89" y2="314.32" stroke="#000" stroke-width="1.55" />
<line x1="96.1" y1="309.45" x2="96.1" y2="315.95" stroke="#000" stroke-width="1.55" />
<line x1="93.29" y1="311.07" x2="98.91" y2="314.32" stroke="#000" stroke-width="1.55" />
<line x1="98.91" y1="311.07" x2="93.29" y2="314.32" stroke="#000" stroke-width="1.55" />
<line x1="104.5" y1="309.45" x2="104.5" y2="315.95" stroke="#000" stroke-width="1.55" />
<line x1="101.69" y1="311.07" x2="107.31" y2="314.32" stroke="#000" stroke-width="1.55" />
<line x1="107.31" y1="311.07" x2="101.69" y2="314.32" stroke="#000" stroke-width="1.55" />
<line x1="127.2" y1="284.15" x2="127.2" y2="290.65" stroke="#000" stroke-width="1.55" />
<line x1="124.39" y1="285.77" x2="130.01" y2="289.02" stroke="#000" stroke-width="1.55" />
<line x1="130.01" y1="285.77" x2="124.39" y2="289.02" stroke="#000" stroke-width="1.55" />
<line x1="135.6" y1="284.15" x2="135.6" y2="290.65" stroke="#000" stroke-width="1.55" />
<line x1="132.79" y1="285.77" x2="138.41" y2="289.02" stroke="#000" stroke-width="1.55" />
<line x1="138.41" y1="285.77" x2="132.79" y2="289.02" stroke="#000" stroke-width="1.55" />
<line x1="162" y1="293.45" x2="162" y2="299.95" stroke="#000" stroke-width="1.55" />
<line x1="159.19" y1="295.07" x2="164.81" y2="298.32" stroke="#000" stroke-width="1.55" />
<line x1="164.81" y1="295.07" x2="159.19" y2="298.32" stroke="#000" stroke-width="1.55" />
<line x1="170.4" y1="293.45" x2="170.4" y2="299.95" stroke="#000" stroke-width="1.55" />
<line x1="167.59" y1="295.07" x2="173.21" y2="298.32" stroke="#000" stroke-width="1.55" />
<line x1="173.21" y1="295.07" x2="167.59" y2="298.32" stroke="#000" stroke-width="1.55" />
<line x1="196" y1="347.05" x2="196" y2="353.55" stroke="#000" stroke-width="1.55" />
<line x1="193.19" y1="348.68" x2="198.81" y2="351.93" stroke="#000" stroke-width="1.55" />
<line x1="198.81" y1="348.68" x2="193.19" y2="351.93" stroke="#000" stroke-width="1.55" />
<line x1="204.4" y1="347.05" x2="204.4" y2="353.55" stroke="#000" stroke-width="1.55" />
<line x1="201.59" y1="348.68" x2="207.21" y2="351.93" stroke="#000" stroke-width="1.55" />
<line x1="207.21" y1="348.68" x2="201.59" y2="351.93" stroke="#000" stroke-width="1.55" />
<line x1="235.2" y1="362.35" x2="235.2" y2="368.85" stroke="#000" stroke-width="1.55" />
<line x1="232.39" y1="363.98" x2="238.01" y2="367.23" stroke="#000" stroke-width="1.55" />
<line x1="238.01" y1="363.98" x2="232.39" y2="367.23" stroke="#000" stroke-width="1.55" />
<line x1="269.8" y1="385.35" x2="269.8" y2="391.85" stroke="#000" stroke-width="1.55" />
<line x1="266.99" y1="386.98" x2="272.61" y2="390.23" stroke="#000" stroke-width="1.55" />
<line x1="272.61" y1="386.98" x2="266.99" y2="390.23" stroke="#000" stroke-width="1.55" />
<text x="303.6" y="409.6" font-size="11.2" font-weight="bold" text-anchor="middle" fill="#000" >ns</text>
<rect x="616.5" y="428.7" width="15.6" height="4.2" fill="#ff8200" />
<rect x="639.7" y="415.6" width="15.6" height="17.3" fill="#63063f" />
<rect x="678.3" y="412.7" width="15.6" height="20.2" fill="#ff8200" />
<rect x="701.5" y="393.5" width="15.6" height="39.4" fill="#63063f" />
<rect x="740.1" y="368.9" width="15.6" height="64" fill="#ff8200" />
<rect x="763.3" y="380" width="15.6" height="52.9" fill="#63063f" />
<rect x="801.9" y="293" width="15.6" height="139.9" fill="#ff8200" />
<rect x="825.1" y="349.6" width="15.6" height="83.3" fill="#63063f" />
<line x1="608.3" y1="269.2" x2="850.2" y2="269.2" stroke="#000" stroke-width="1.6" />
<line x1="609.1" y1="269.2" x2="609.1" y2="433.7" stroke="#000" stroke-width="1.6" />
<line x1="849.4" y1="269.2" x2="849.4" y2="433.7" stroke="#000" stroke-width="1.6" />
<line x1="602.4" y1="432.9" x2="856.1" y2="432.9" stroke="#000" stroke-width="1.6" />
<line x1="602.4" y1="432.9" x2="609.1" y2="432.9" stroke="#000" stroke-width="1.6" />
<text x="600.3" y="437.9" font-size="13.4" font-weight="bold" text-anchor="end" fill="#000" >0</text>
<line x1="602.4" y1="391.97" x2="609.1" y2="391.97" stroke="#000" stroke-width="1.6" />
<text x="600.3" y="396.97" font-size="13.4" font-weight="bold" text-anchor="end" fill="#000" >200</text>
<line x1="602.4" y1="351.05" x2="609.1" y2="351.05" stroke="#000" stroke-width="1.6" />
<text x="600.3" y="356.05" font-size="13.4" font-weight="bold" text-anchor="end" fill="#000" >400</text>
<line x1="602.4" y1="310.12" x2="609.1" y2="310.12" stroke="#000" stroke-width="1.6" />
<text x="600.3" y="315.12" font-size="13.4" font-weight="bold" text-anchor="end" fill="#000" >600</text>
<line x1="602.4" y1="269.2" x2="609.1" y2="269.2" stroke="#000" stroke-width="1.6" />
<text x="600.3" y="274.2" font-size="13.4" font-weight="bold" text-anchor="end" fill="#000" >800</text>
<line x1="849.4" y1="432.9" x2="856.1" y2="432.9" stroke="#000" stroke-width="1.6" />
<text x="859.6" y="437.9" font-size="13.4" font-weight="bold" text-anchor="start" fill="#000" >0</text>
<line x1="849.4" y1="391.97" x2="856.1" y2="391.97" stroke="#000" stroke-width="1.6" />
<text x="859.6" y="396.97" font-size="13.4" font-weight="bold" text-anchor="start" fill="#000" >10</text>
<line x1="849.4" y1="351.05" x2="856.1" y2="351.05" stroke="#000" stroke-width="1.6" />
<text x="859.6" y="356.05" font-size="13.4" font-weight="bold" text-anchor="start" fill="#000" >20</text>
<line x1="849.4" y1="310.12" x2="856.1" y2="310.12" stroke="#000" stroke-width="1.6" />
<text x="859.6" y="315.12" font-size="13.4" font-weight="bold" text-anchor="start" fill="#000" >30</text>
<line x1="849.4" y1="269.2" x2="856.1" y2="269.2" stroke="#000" stroke-width="1.6" />
<text x="859.6" y="274.2" font-size="13.4" font-weight="bold" text-anchor="start" fill="#000" >40</text>
<line x1="635.9" y1="432.9" x2="635.9" y2="439.5" stroke="#000" stroke-width="1.6" />
<text x="635.9" y="454" font-size="13.4" font-weight="bold" text-anchor="middle" fill="#000" >100</text>
<line x1="697.7" y1="432.9" x2="697.7" y2="439.5" stroke="#000" stroke-width="1.6" />
<text x="697.7" y="454" font-size="13.4" font-weight="bold" text-anchor="middle" fill="#000" >250</text>
<line x1="759.5" y1="432.9" x2="759.5" y2="439.5" stroke="#000" stroke-width="1.6" />
<text x="759.5" y="454" font-size="13.4" font-weight="bold" text-anchor="middle" fill="#000" >500</text>
<line x1="821.3" y1="432.9" x2="821.3" y2="439.5" stroke="#000" stroke-width="1.6" />
<text x="821.3" y="454" font-size="13.4" font-weight="bold" text-anchor="middle" fill="#000" >1000</text>
<text x="729.25" y="479.5" font-size="15.8" font-weight="bold" text-anchor="middle" fill="#000" >Substrate/μM</text>
<text transform="translate(567.9 350.25) rotate(-90)" font-size="16.05" font-weight="bold" text-anchor="middle">6-Br-Trp/μM</text>
<text transform="translate(885.7 351.05) rotate(90)" font-size="16.05" font-weight="bold" text-anchor="middle">Tyrian purple/μM</text>
<rect x="908.2" y="271.4" width="17.3" height="10.6" fill="#ff8200" />
<text x="934.9" y="282.3" font-size="15.7" font-weight="bold" text-anchor="start" fill="#000" >6-Br-Trp</text>
<rect x="908.2" y="296" width="17.3" height="10.6" fill="#63063f" />
<text x="934.9" y="306.9" font-size="15.7" font-weight="bold" text-anchor="start" fill="#000" >Tyrian purple</text>
<line x1="624.3" y1="428" x2="624.3" y2="430" stroke="#111" stroke-width="1" />
<line x1="647.5" y1="414.4" x2="647.5" y2="416.6" stroke="#111" stroke-width="1" />
<line x1="686.1" y1="406.6" x2="686.1" y2="418.8" stroke="#111" stroke-width="1" />
<line x1="682" y1="406.6" x2="690.2" y2="406.6" stroke="#111" stroke-width="1" />
<line x1="682" y1="418.8" x2="690.2" y2="418.8" stroke="#111" stroke-width="1" />
<line x1="709.3" y1="379.5" x2="709.3" y2="407" stroke="#111" stroke-width="1" />
<line x1="705.2" y1="379.5" x2="713.4" y2="379.5" stroke="#111" stroke-width="1" />
<line x1="705.2" y1="407" x2="713.4" y2="407" stroke="#111" stroke-width="1" />
<line x1="747.9" y1="362.3" x2="747.9" y2="374.6" stroke="#111" stroke-width="1" />
<line x1="743.8" y1="362.3" x2="752" y2="362.3" stroke="#111" stroke-width="1" />
<line x1="743.8" y1="374.6" x2="752" y2="374.6" stroke="#111" stroke-width="1" />
<line x1="771.1" y1="375.3" x2="771.1" y2="384" stroke="#111" stroke-width="1" />
<line x1="767" y1="375.3" x2="775.2" y2="375.3" stroke="#111" stroke-width="1" />
<line x1="767" y1="384" x2="775.2" y2="384" stroke="#111" stroke-width="1" />
<line x1="809.7" y1="288.6" x2="809.7" y2="296.7" stroke="#111" stroke-width="1" />
<line x1="805.6" y1="288.6" x2="813.8" y2="288.6" stroke="#111" stroke-width="1" />
<line x1="805.6" y1="296.7" x2="813.8" y2="296.7" stroke="#111" stroke-width="1" />
<line x1="832.9" y1="301.1" x2="832.9" y2="396.7" stroke="#111" stroke-width="1" />
<line x1="828.8" y1="301.1" x2="837" y2="301.1" stroke="#111" stroke-width="1" />
<line x1="828.8" y1="396.7" x2="837" y2="396.7" stroke="#111" stroke-width="1" />
<circle cx="620.6" cy="428.7" r="2.55" fill="none" stroke="#000" stroke-width="0.85"/>
<circle cx="624.3" cy="429.9" r="2.55" fill="none" stroke="#000" stroke-width="0.85"/>
<circle cx="628" cy="429.2" r="2.55" fill="none" stroke="#000" stroke-width="0.85"/>
<circle cx="643.5" cy="414.4" r="2.55" fill="none" stroke="#000" stroke-width="0.85"/>
<circle cx="647.4" cy="415.6" r="2.55" fill="none" stroke="#000" stroke-width="0.85"/>
<circle cx="651.4" cy="416.4" r="2.55" fill="none" stroke="#000" stroke-width="0.85"/>
<circle cx="686.3" cy="405.3" r="2.55" fill="none" stroke="#000" stroke-width="0.85"/>
<circle cx="682.1" cy="412.9" r="2.55" fill="none" stroke="#000" stroke-width="0.85"/>
<circle cx="690" cy="418.8" r="2.55" fill="none" stroke="#000" stroke-width="0.85"/>
<circle cx="709.4" cy="377.8" r="2.55" fill="none" stroke="#000" stroke-width="0.85"/>
<circle cx="705.5" cy="396.7" r="2.55" fill="none" stroke="#000" stroke-width="0.85"/>
<circle cx="713.6" cy="404.6" r="2.55" fill="none" stroke="#000" stroke-width="0.85"/>
<circle cx="748" cy="365.2" r="2.55" fill="none" stroke="#000" stroke-width="0.85"/>
<circle cx="748" cy="373.4" r="2.55" fill="none" stroke="#000" stroke-width="0.85"/>
<circle cx="767.3" cy="376.6" r="2.55" fill="none" stroke="#000" stroke-width="0.85"/>
<circle cx="775.2" cy="383.2" r="2.55" fill="none" stroke="#000" stroke-width="0.85"/>
<circle cx="772.7" cy="382" r="2.55" fill="none" stroke="#000" stroke-width="0.85"/>
<circle cx="805.9" cy="290.6" r="2.55" fill="none" stroke="#000" stroke-width="0.85"/>
<circle cx="810.3" cy="289.8" r="2.55" fill="none" stroke="#000" stroke-width="0.85"/>
<circle cx="813.8" cy="298" r="2.55" fill="none" stroke="#000" stroke-width="0.85"/>
<circle cx="833.4" cy="296.7" r="2.55" fill="none" stroke="#000" stroke-width="0.85"/>
<circle cx="833.4" cy="361.1" r="2.55" fill="none" stroke="#000" stroke-width="0.85"/>
<circle cx="833.4" cy="390.6" r="2.55" fill="none" stroke="#000" stroke-width="0.85"/>
</svg>
</body></html>
